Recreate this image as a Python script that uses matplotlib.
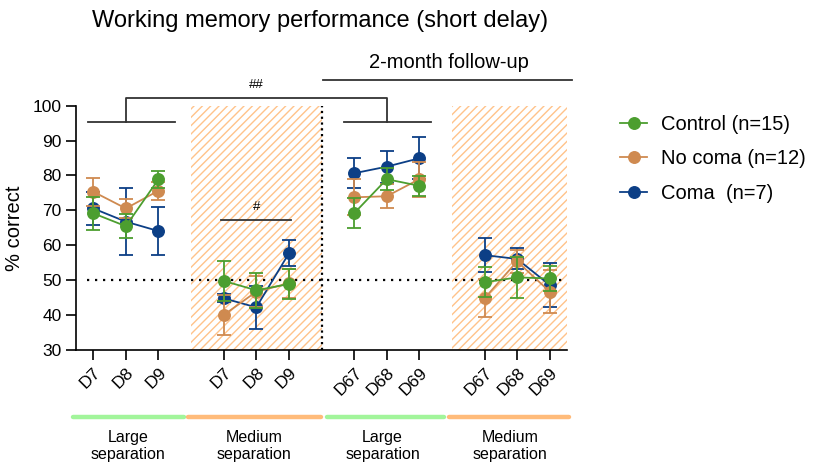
import matplotlib
matplotlib.use("Agg")
import matplotlib.pyplot as plt
import matplotlib.transforms as mtransforms
from matplotlib.lines import Line2D

plt.rcParams['font.family'] = ['Liberation Sans', 'DejaVu Sans']
plt.rcParams['hatch.linewidth'] = 1.0

# ---------------- data ----------------
tick_labels = ["D7", "D8", "D9", "D7", "D8", "D9",
               "D67", "D68", "D69", "D67", "D68", "D69"]
x_pos = [0, 1, 2, 4, 5, 6, 8, 9, 10, 12, 13, 14]

control_mean = [69.1, 65.4, 78.9, 49.7, 47.0, 48.8, 69.1, 78.9, 77.0, 49.3, 50.7, 50.4]
control_sem  = [4.8, 3.5, 2.4, 5.7, 5.1, 4.3, 4.3, 3.2, 2.9, 4.3, 6.0, 3.5]
nocoma_mean  = [75.3, 70.5, 75.6, 39.9, 46.6, 49.0, 73.7, 74.0, 78.9, 44.7, 55.3, 46.6]
nocoma_sem   = [4.0, 2.7, 2.6, 5.8, 4.5, 4.2, 5.2, 3.5, 5.0, 5.5, 3.3, 6.2]
coma_mean    = [70.5, 66.7, 64.0, 44.7, 42.1, 57.6, 80.6, 82.5, 84.9, 57.1, 56.0, 48.5]
coma_sem     = [4.8, 9.6, 6.9, 1.1, 6.2, 3.7, 4.3, 4.6, 6.0, 4.8, 3.0, 6.4]

series_names = ["Control (n=15)", "No coma (n=12)", "Coma  (n=7)"]
group_labels = ["Large\nseparation", "Medium\nseparation", "Large\nseparation", "Medium\nseparation"]

green = "#4c9e2f"
orange = "#cf8a50"
blue = "#0c3f86"

# ---------------- figure ----------------
W, H = 813, 466
fig = plt.figure(figsize=(W / 100, H / 100), dpi=100)
ax = fig.add_axes([76 / W, 1 - 349.5 / H, (567 - 76) / W, (349.5 - 105.7) / H])
ax.set_xlim(-0.53, 14.53)
ax.set_ylim(30, 100)

# hatched medium-separation regions
for (a, b) in [(3, 7), (11, 14.53)]:
    ax.axvspan(a, b, facecolor="none", edgecolor="#ffc38a", hatch="////", lw=0, zorder=0)

# reference lines
ax.plot([-0.2, 14.4], [50, 50], color="black", lw=1.6, ls=(0, (1, 2.6)), zorder=1)
ax.plot([7, 7], [30, 100], color="black", lw=1.6, ls=(0, (1, 1.6)), zorder=1)

# series
for mean, sem, col, z in [(coma_mean, coma_sem, blue, 3),
                          (nocoma_mean, nocoma_sem, orange, 4),
                          (control_mean, control_sem, green, 5)]:
    for g in range(4):
        sl = slice(3 * g, 3 * g + 3)
        ax.errorbar(x_pos[sl], mean[sl], yerr=sem[sl], color=col, marker="o",
                    markersize=8.3, lw=1.3, elinewidth=1.3, capsize=5, capthick=1.3,
                    zorder=z, clip_on=False)

# axes styling
for s in ["top", "right"]:
    ax.spines[s].set_visible(False)
ax.spines["left"].set_linewidth(1.2)
ax.spines["bottom"].set_linewidth(1.2)
ax.set_yticks([30, 40, 50, 60, 70, 80, 90, 100])
ax.tick_params(axis="both", length=7, width=1.2, labelsize=12.5)
ax.set_xticks(x_pos)
ax.set_xticklabels(tick_labels, rotation=45, ha="right", va="top", rotation_mode="anchor")
ax.tick_params(axis="x", pad=4)
fig.text(15 / W, 1 - 228 / H, "% correct", rotation=90, ha="center", va="center", fontsize=14.5)

# brackets / annotations
bc = "#333333"
ax.plot([1, 1, 9, 9], [95.2, 102.1, 102.1, 95.2], color=bc, lw=1.3, clip_on=False)
ax.plot([-0.15, 2.5], [95.2, 95.2], color=bc, lw=1.3, clip_on=False)
ax.plot([7.7, 10.35], [95.2, 95.2], color=bc, lw=1.3, clip_on=False)
ax.text(5, 105.9, "##", ha="center", va="center", fontsize=9.5)
ax.plot([3.92, 6.05], [67.2, 67.2], color=bc, lw=1.3)
ax.text(5, 70.9, "#", ha="center", va="center", fontsize=9.5)

ax.plot([7.05, 14.68], [107.4, 107.4], color=bc, lw=1.3, clip_on=False)
ax.text(10.9, 112.3, "2-month follow-up", ha="center", va="center", fontsize=14.5)

# title
fig.text(320 / W, 1 - 21 / H, "Working memory performance (short delay)",
         ha="center", va="center", fontsize=17)

# bottom group bars and labels
trans = mtransforms.blended_transform_factory(ax.transData, fig.transFigure)
bar_spans = [(-0.63, 2.79), (2.89, 6.97), (7.16, 10.76), (10.92, 14.59)]
bar_cols = ["#a2f59b", "#ffbb7a", "#a2f59b", "#ffbb7a"]
text_x = [1.07, 4.94, 8.87, 12.78]
for (a, b), c, tx, lab in zip(bar_spans, bar_cols, text_x, group_labels):
    ln = Line2D([a, b], [1 - 416.7 / H] * 2, transform=trans, color=c, lw=3.2,
                solid_capstyle="round")
    ln.set_clip_on(False)
    fig.add_artist(ln)
    fig.text(tx, 1 - 446 / H, lab, transform=trans, ha="center", va="center",
             fontsize=11.5, linespacing=1.1)

# legend
handles = [Line2D([], [], color=c, marker="o", markersize=8.3, lw=1.3) for c in [green, orange, blue]]
fig.legend(handles, series_names, loc="upper left", bbox_to_anchor=(620 / W, 1 - 115 / H),
           frameon=False, fontsize=14.5, handlelength=1.35, handletextpad=0.7,
           labelspacing=0.76, borderpad=0, borderaxespad=0)

fig.savefig("out.png", dpi=100)
